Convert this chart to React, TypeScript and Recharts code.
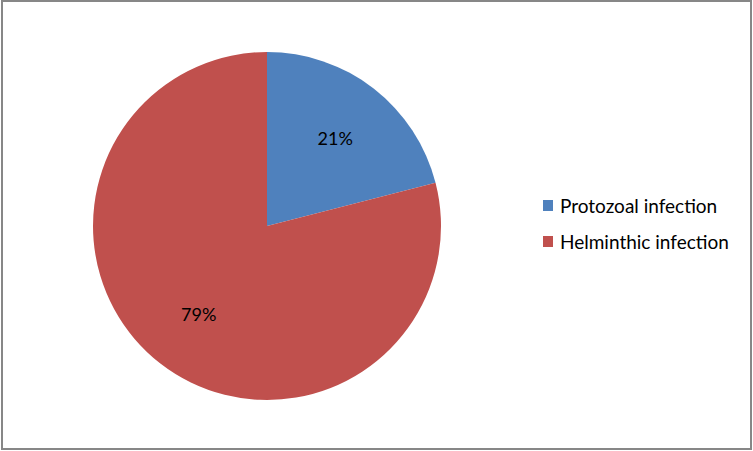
import { PieChart, Pie, Cell, Legend } from 'recharts';

const categories = ['Protozoal infection', 'Helminthic infection'];
const shares = [21, 79];
const colors = ['#4F81BD', '#C0504D'];

const data = categories.map((name, i) => ({ name, value: shares[i] }));

const RADIAN = Math.PI / 180;
const FONT = 'Lato, "Open Sans", sans-serif';

// percent labels inside the slices
const renderLabel = (props: any) => {
  const { cx, cy, midAngle, outerRadius, percent } = props;
  const r = outerRadius * 0.64;
  const x = cx + r * Math.cos(-midAngle * RADIAN);
  const y = cy + r * Math.sin(-midAngle * RADIAN);
  return (
    <text
      x={x}
      y={y}
      textAnchor="middle"
      dominantBaseline="central"
      fill="#000"
      fontSize={18}
      fontFamily={FONT}
    >
      {`${Math.round(percent * 100)}%`}
    </text>
  );
};

// legend built in category order (recharts sorts the payload otherwise)
const renderLegend = () => (
  <div style={{ fontFamily: FONT }}>
    {categories.map((name, index) => (
      <div
        key={`item-${index}`}
        style={{ display: 'flex', alignItems: 'center', height: 36 }}
      >
        <div style={{ width: 10, height: 11, background: colors[index], marginRight: 7 }} />
        <span style={{ fontSize: 19, color: '#000' }}>{name}</span>
      </div>
    ))}
  </div>
);

export default function App() {
  return (
    <div style={{ position: 'absolute', left: 0, top: 0, width: 753, height: 451, background: '#fff' }}>
      <div
        style={{
          position: 'absolute',
          left: 1,
          top: 0,
          width: 751,
          height: 450,
          border: '2px solid #878787',
          boxSizing: 'border-box',
        }}
      />
      <PieChart width={753} height={451} margin={{ top: 0, right: 0, bottom: 0, left: 0 }}>
        <Pie
          data={data}
          dataKey="value"
          nameKey="name"
          cx={267}
          cy={226}
          outerRadius={174}
          startAngle={90}
          endAngle={-270}
          stroke="none"
          label={renderLabel}
          labelLine={false}
          isAnimationActive={false}
        >
          {data.map((_entry, index) => (
            <Cell key={`cell-${index}`} fill={colors[index]} />
          ))}
        </Pie>
        <Legend
          content={renderLegend}
          layout="vertical"
          wrapperStyle={{ left: 543, top: 187, width: 210 }}
        />
      </PieChart>
    </div>
  );
}
